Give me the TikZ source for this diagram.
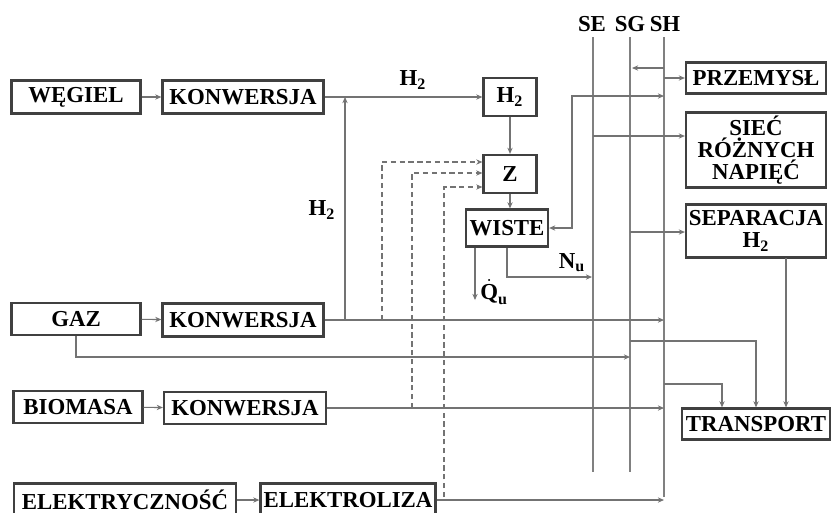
\documentclass[tikz,border=0pt]{standalone}
\usepackage{amsmath}
\usepackage{fontspec}
\setmainfont{Liberation Serif}
\usetikzlibrary{arrows.meta,calc}

\begin{document}
\begin{tikzpicture}[
  x=0.02cm,y=-0.02cm,
  >={Stealth[length=3.5pt,width=3pt]},
  blok/.style={draw=black!75,line width=1.3pt,fill=white,align=center,
               font=\bfseries\fontsize{13}{12.5}\selectfont,inner sep=0pt},
  etyk/.style={font=\bfseries\fontsize{13}{14}\selectfont,inner sep=0pt},
  flow/.style={->,black!55,line width=0.6pt},
  szyna/.style={black!50,line width=0.8pt},
  kreski/.style={->,black!55,line width=0.6pt,densely dashed}
]
  \fill[white] (0,0) rectangle (837,512);
  \clip (0,0) rectangle (837,512);

  % zrodla i konwersja
  \node[blok,minimum width=2.58cm,minimum height=0.66cm] (wegiel) at (76,97) {WĘGIEL};
  \node[blok,minimum width=3.22cm,minimum height=0.66cm] (konw1) at (243,97) {KONWERSJA};
  \node[blok,minimum width=2.58cm,minimum height=0.64cm] (gaz) at (76,319) {GAZ};
  \node[blok,minimum width=3.22cm,minimum height=0.66cm] (konw2) at (243,320) {KONWERSJA};
  \node[blok,minimum width=2.58cm,minimum height=0.64cm] (biomasa) at (78,407) {BIOMASA};
  \node[blok,minimum width=3.24cm,minimum height=0.64cm] (konw3) at (245,408) {KONWERSJA};
  \node[blok,minimum width=4.44cm,minimum height=0.66cm] (elektr) at (125,500) {ELEKTRYCZNOŚĆ};
  \node[blok,minimum width=3.5cm,minimum height=0.66cm] (elektroliza) at (348,500) {ELEKTROLIZA};

  % magazyn i uklad
  \node[blok,minimum width=1.06cm,minimum height=0.76cm] (hbox) at (510,97) {H$_{\textbf{2}}$};
  \node[blok,minimum width=1.06cm,minimum height=0.76cm] (zbox) at (510,174) {Z};
  \node[blok,minimum width=1.64cm,minimum height=0.74cm] (wiste) at (507,228) {WISTE};

  % odbiorcy
  \node[blok,minimum width=2.8cm,minimum height=0.62cm] (przemysl) at (756,78) {PRZEMYSŁ};
  \node[blok,minimum width=2.8cm,minimum height=1.5cm] (siec) at (756,150) {SIEĆ\\RÓŻNYCH\\NAPIĘĆ};
  \node[blok,minimum width=2.8cm,minimum height=1.06cm] (separacja) at (756,231) {SEPARACJA\\H$_{\textbf{2}}$};
  \node[blok,minimum width=2.96cm,minimum height=0.62cm] (transport) at (756,424) {TRANSPORT};

  % szyny SE, SG, SH
  \coordinate (seTop) at (593,37);  \coordinate (seBot) at (593,472);
  \coordinate (sgTop) at (630,37);  \coordinate (sgBot) at (630,472);
  \coordinate (shTop) at (664,37);  \coordinate (shBot) at (664,497);
  \draw[szyna] (seTop) -- (seBot);
  \draw[szyna] (sgTop) -- (sgBot);
  \draw[szyna] (shTop) -- (shBot);
  \node[etyk] (seLab) at (592,24) {SE};
  \node[etyk] (sgLab) at (630,24) {SG};
  \node[etyk] (shLab) at (665,24) {SH};

  % przeplywy
  \draw[flow] (wegiel) -- (konw1);
  \draw[flow] (gaz) -- (konw2);
  \draw[flow] (biomasa) -- (konw3);
  \draw[flow] (elektr) -- (elektroliza);
  \draw[flow] (konw1) -- (hbox);
  \node[etyk] (h2a) at (413,80) {H$_{\textbf{2}}$};
  \coordinate (wz1) at (345,320);
  \coordinate (wz2) at (345,97);
  \draw[flow] (wz1) -- (wz2);
  \node[etyk] (h2b) at (322,210) {H$_{\textbf{2}}$};
  \draw[flow] (hbox) -- (zbox);
  \draw[flow] (zbox.south) -- (zbox.south |- wiste.north);

  \coordinate (d1) at (382,320);
  \coordinate (d2) at (412,408);
  \coordinate (d3) at (444,497);
  \draw[kreski] (d1) |- ($(zbox.west)+(0,-12)$);
  \draw[kreski] (d2) |- ($(zbox.west)+(0,-1)$);
  \draw[kreski] (d3) |- ($(zbox.west)+(0,13)$);

  \coordinate (qu) at (475,300);
  \draw[flow] (wiste.south -| qu) -- (qu);
  \node[etyk,anchor=west] (quLab) at (480,292) {$\dot{\textbf{Q}}_{\textbf{u}}$};
  \coordinate (nu) at (592,277);
  \draw[flow] (wiste.south) |- (nu);
  \node[etyk] (nuLab) at (572,263) {N$_{\textbf{u}}$};

  \coordinate (zw) at (572,96);
  \coordinate (shw) at (664,96);
  \draw[flow,<->] (wiste.east) -| (zw) -- (shw);

  \coordinate (sh68) at (664,68);
  \draw[flow] (sh68) -- (632,68);
  \coordinate (sh78) at (664,78);
  \draw[flow] (sh78) -- (przemysl.west);
  \coordinate (se136) at (593,136);
  \draw[flow] (se136) -- (se136 -| siec.west);
  \coordinate (sg233) at (630,232);
  \draw[flow] (sg233) -- (sg233 -| separacja.west);
  \coordinate (sepT) at (786,258);
  \draw[flow] (sepT) -- (sepT |- transport.north);
  \coordinate (sg341) at (630,341);
  \draw[flow] (sg341) -| (transport.north);
  \coordinate (sh384) at (664,384);
  \draw[flow] (sh384) -| ($(transport.north)+(-34,0)$);

  \draw[flow] (konw2.east) -- (konw2.east -| shTop);
  \draw[flow] (gaz.south) |- (630,357);
  \draw[flow] (konw3.east) -- (konw3.east -| shTop);
  \draw[flow] (elektroliza.east) -- (elektroliza.east -| shTop);
\end{tikzpicture}
\end{document}
